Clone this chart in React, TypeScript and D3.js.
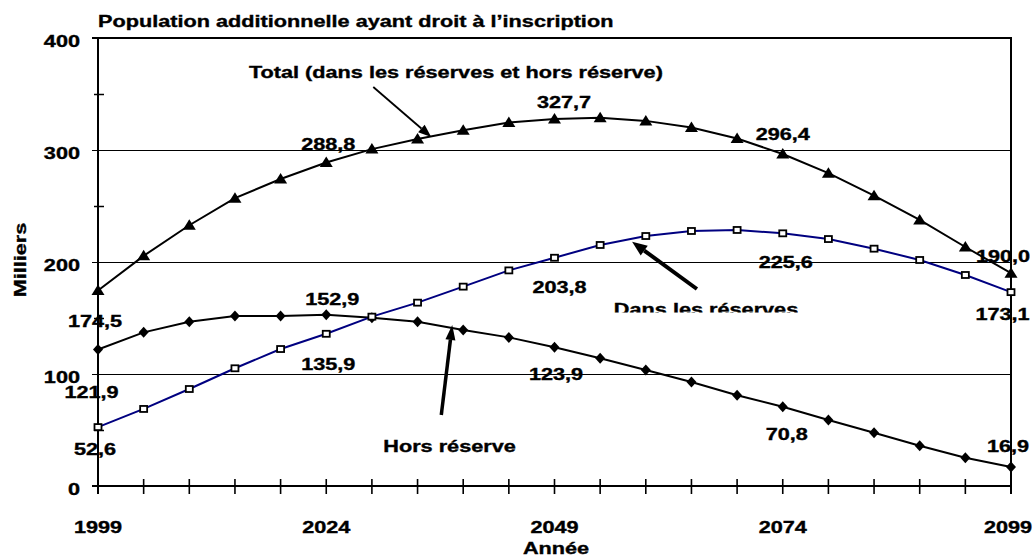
import React from "react";
import * as d3 from "d3";

const years = [1999, 2004, 2009, 2014, 2019, 2024, 2029, 2034, 2039, 2044, 2049, 2054, 2059, 2064, 2069, 2074, 2079, 2084, 2089, 2094, 2099];
const totalValues = [174.5, 205.5, 232.8, 257.0, 274.1, 288.8, 300.8, 309.8, 317.6, 324.5, 327.7, 328.8, 326.0, 320.1, 310.3, 296.4, 279.3, 259.2, 237.6, 213.4, 190.0];
const dansValues = [52.6, 68.8, 86.6, 105.1, 122.3, 135.9, 151.2, 163.7, 178.0, 192.5, 203.8, 215.2, 223.2, 227.7, 228.6, 225.6, 220.5, 211.9, 201.8, 188.4, 173.1];
const horsValues = [121.9, 137.2, 146.7, 151.8, 151.8, 152.9, 150.3, 146.7, 139.3, 132.7, 123.9, 114.0, 103.6, 92.9, 81.0, 70.8, 58.9, 47.6, 36.0, 25.3, 16.9];
const xTickLabels = [1999, 2024, 2049, 2074, 2099];
const yTickLabels = [0, 100, 200, 300, 400];
const labelledIndices = [0, 5, 10, 15, 20];

const title = "Population additionnelle ayant droit à l\u2019inscription";
const xTitle = "Année";
const yTitle = "Milliers";

// label offsets (px) relative to the data point, per labelled index
const totalLabelOffsets = [[-3, 36.5], [2, -12.5], [9.5, -11], [0, -14], [-8, -11]];
const dansLabelOffsets = [[-3, 28], [2, 36], [5, 35], [3, 35], [-8.5, 28]];
const horsLabelOffsets = [[-6.5, 48.5], [6, -10], [1.5, 33], [4, 33], [-3, -15]];

const W = 1034, H = 558;
const left = 98, right = 1011, top = 38, bottom = 486;
const SX = 1.355; // horizontal stretch of the original picture
const FONT = "'Liberation Sans', Arial, Helvetica, sans-serif";

const x = d3.scaleLinear().domain([1999, 2099]).range([left, right]);
const y = d3.scaleLinear().domain([0, 400]).range([bottom, top]);

const fmt = (v: number) => d3.format(".1f")(v).replace(".", ",");
const crisp = (v: number) => Math.round(v) + 0.5;

function T({ x: tx, y: ty, anchor = "middle", children, size = 16, rotate = 0 }: any) {
  const tr = rotate
    ? `translate(${tx},${ty}) rotate(${rotate}) scale(${SX},1)`
    : `translate(${tx},${ty}) scale(${SX},1)`;
  return (
    <text transform={tr} textAnchor={anchor} fontFamily={FONT} fontWeight="bold" fontSize={size}
      fill="#000" stroke="#000" strokeWidth={0.35}>
      {children}
    </text>
  );
}

function Arrow({ x1, y1, x2, y2, w, hl, hw }: any) {
  const ang = Math.atan2(y2 - y1, x2 - x1);
  const bx = x2 - hl * Math.cos(ang), by = y2 - hl * Math.sin(ang);
  const px = -Math.sin(ang) * hw / 2, py = Math.cos(ang) * hw / 2;
  return (
    <g>
      <line x1={x1} y1={y1} x2={bx} y2={by} stroke="#000" strokeWidth={w} />
      <path d={`M${x2},${y2}L${bx + px},${by + py}L${bx - px},${by - py}Z`} fill="#000" />
    </g>
  );
}

export default function App() {
  const line = (vals: number[]) =>
    d3.line<number>().x((_, i) => x(years[i])).y((v) => y(v))(vals) || "";
  const minorTicks = [50, 150, 250, 350];
  return (
    <svg width={W} height={H} style={{ position: "absolute", left: 0, top: 0, background: "#fff" }}>
      <defs>
        <clipPath id="clipDans">
          <rect x={0} y={0} width={W} height={312.5} />
        </clipPath>
      </defs>
      <rect width={W} height={H} fill="#fff" />
      {/* gridlines */}
      {[100, 200, 300].map((v) => (
        <line key={v} x1={left - 6} x2={right} y1={crisp(y(v))} y2={crisp(y(v))} stroke="#000" strokeWidth={1} />
      ))}
      {/* frame */}
      <line x1={left - 6} x2={right + 1} y1={top} y2={top} stroke="#000" strokeWidth={2} />
      <line x1={right} x2={right} y1={top} y2={bottom + 8} stroke="#000" strokeWidth={2} />
      <line x1={left} x2={left} y1={top} y2={bottom + 8} stroke="#000" strokeWidth={2} />
      <line x1={left - 6} x2={right} y1={bottom} y2={bottom} stroke="#000" strokeWidth={2} />
      {minorTicks.map((v) => (
        <line key={v} x1={left - 4} x2={left + 6} y1={crisp(y(v))} y2={crisp(y(v))} stroke="#000" strokeWidth={1.5} />
      ))}
      {years.map((yr) => (
        <line key={yr} x1={x(yr)} x2={x(yr)} y1={bottom - 7} y2={bottom + 8} stroke="#000" strokeWidth={1.6} />
      ))}
      {/* axis labels */}
      {yTickLabels.map((v) => (
        <T key={v} x={80} y={y(v) + 9} anchor="end">{v}</T>
      ))}
      {xTickLabels.map((v) => (
        <T key={v} x={v === 2099 ? x(v) - 3 : x(v)} y={533}>{v}</T>
      ))}
      <T x={556} y={554}>{xTitle}</T>
      <T x={26} y={260} rotate={-90}>{yTitle}</T>
      <T x={left} y={27} anchor="start">{title}</T>

      {/* series lines */}
      <path d={line(totalValues)} fill="none" stroke="#000" strokeWidth={2} />
      <path d={line(horsValues)} fill="none" stroke="#000" strokeWidth={2} />
      <path d={line(dansValues)} fill="none" stroke="#000080" strokeWidth={2} />

      {/* markers */}
      {totalValues.map((v, i) => (
        <path key={"t" + i} transform={`translate(${x(years[i])},${y(v)})`} d="M0,-6L6.5,4.5L-6.5,4.5Z" fill="#000" />
      ))}
      {horsValues.map((v, i) => (
        <path key={"h" + i} transform={`translate(${x(years[i])},${y(v)})`} d="M0,-5.5L5,0L0,5.5L-5,0Z" fill="#000" />
      ))}
      {dansValues.map((v, i) => (
        <rect key={"d" + i} x={x(years[i]) - 3.5} y={y(v) - 3} width={7} height={6} fill="#fff" stroke="#000" strokeWidth={1.8} />
      ))}

      {/* data labels */}
      {labelledIndices.map((idx, k) => (
        <g key={"lab" + idx}>
          <T x={x(years[idx]) + totalLabelOffsets[k][0]} y={y(totalValues[idx]) + totalLabelOffsets[k][1]}>{fmt(totalValues[idx])}</T>
          <T x={x(years[idx]) + dansLabelOffsets[k][0]} y={y(dansValues[idx]) + dansLabelOffsets[k][1]}>{fmt(dansValues[idx])}</T>
          <T x={x(years[idx]) + horsLabelOffsets[k][0]} y={y(horsValues[idx]) + horsLabelOffsets[k][1]}>{fmt(horsValues[idx])}</T>
        </g>
      ))}

      {/* annotations */}
      <T x={x(2038.2)} y={y(364.3)}>Total (dans les réserves et hors réserve)</T>
      <Arrow x1={x(2029.15)} y1={y(356.3)} x2={x(2035.5)} y2={y(311.6)} w={1.8} hl={13} hw={10} />
      <T x={x(2037.5)} y={y(30.6)}>Hors réserve</T>
      <Arrow x1={x(2036.6)} y1={y(63.4)} x2={x(2037.8)} y2={y(143.8)} w={3.5} hl={15} hw={10} />
      <g clipPath="url(#clipDans)">
        <T x={x(2065.6)} y={315}>Dans les réserves</T>
      </g>
      <Arrow x1={x(2064.6)} y1={y(175.9)} x2={x(2057.5)} y2={y(218.1)} w={4} hl={15} hw={12} />
    </svg>
  );
}
